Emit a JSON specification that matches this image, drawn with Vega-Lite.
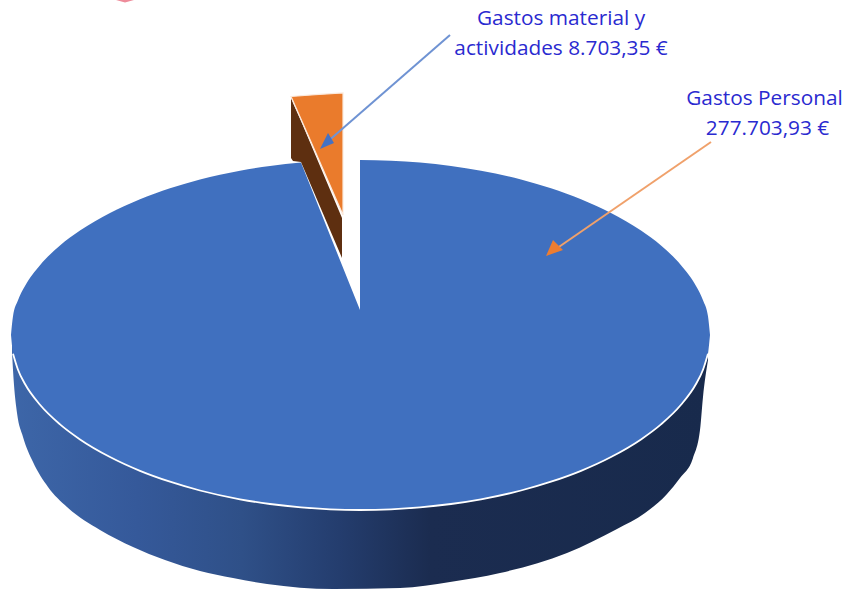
{"$schema":"https://vega.github.io/schema/vega-lite/v6.json","width":848,"height":592,"padding":0,"autosize":{"type":"none"},"background":"white","view":{"stroke":null},
"datasets":{
"wall":[{"x":12,"y":340,"y2":352},{"x":14,"y":340,"y2":385},{"x":17,"y":340,"y2":413},{"x":23,"y":340,"y2":437},{"x":33,"y":340,"y2":462},{"x":48,"y":340,"y2":487},{"x":67,"y":340,"y2":507},{"x":100,"y":340,"y2":530},{"x":133,"y":340,"y2":547},{"x":165,"y":340,"y2":560},{"x":200,"y":340,"y2":571},{"x":233,"y":340,"y2":578},{"x":267,"y":340,"y2":584},{"x":333,"y":340,"y2":589},{"x":400,"y":340,"y2":588},{"x":450,"y":340,"y2":582},{"x":500,"y":340,"y2":573},{"x":567,"y":340,"y2":553},{"x":617,"y":340,"y2":529},{"x":645,"y":340,"y2":513},{"x":667,"y":340,"y2":494},{"x":680,"y":340,"y2":478},{"x":693,"y":340,"y2":458},{"x":700,"y":340,"y2":430},{"x":703,"y":340,"y2":397},{"x":708,"y":340,"y2":360}],
"topLeft":[{"x":11,"y":335,"y2":335},{"x":13,"y":316.3,"y2":353.7},{"x":18,"y":300.2,"y2":369.8},{"x":25,"y":286,"y2":384},{"x":40,"y":265.2,"y2":404.8},{"x":60,"y":245.6,"y2":424.4},{"x":80,"y":230.6,"y2":439.4},{"x":110,"y":213,"y2":457},{"x":140,"y":199.2,"y2":470.8},{"x":170,"y":188.3,"y2":481.7},{"x":200,"y":179.5,"y2":490.5},{"x":240,"y":170.7,"y2":499.3},{"x":270,"y":166,"y2":504},{"x":301,"y":162.6,"y2":507.4}],
"topNotch":[{"x":301,"y":162.6,"y2":507.4},{"x":330,"y":235.3,"y2":509.3},{"x":360,"y":310,"y2":510}],
"topRight":[{"x":360,"y":160,"y2":510},{"x":391,"y":160.7,"y2":509.3},{"x":420,"y":162.6,"y2":507.4},{"x":451,"y":166,"y2":504},{"x":481,"y":170.7,"y2":499.3},{"x":521,"y":179.5,"y2":490.5},{"x":551,"y":188.3,"y2":481.7},{"x":581,"y":199.2,"y2":470.8},{"x":611,"y":213,"y2":457},{"x":641,"y":230.6,"y2":439.4},{"x":661,"y":245.6,"y2":424.4},{"x":681,"y":265.2,"y2":404.8},{"x":696,"y":286,"y2":384},{"x":703,"y":300.2,"y2":369.8},{"x":708,"y":316.3,"y2":353.7},{"x":710,"y":335,"y2":335}],
"rim":[{"x":13,"y":353.7},{"x":18,"y":369.8},{"x":25,"y":384},{"x":40,"y":404.8},{"x":60,"y":424.4},{"x":80,"y":439.4},{"x":110,"y":457},{"x":140,"y":470.8},{"x":170,"y":481.7},{"x":200,"y":490.5},{"x":240,"y":499.3},{"x":270,"y":504},{"x":301,"y":507.4},{"x":330,"y":509.3},{"x":360,"y":510},{"x":391,"y":509.3},{"x":420,"y":507.4},{"x":451,"y":504},{"x":481,"y":499.3},{"x":521,"y":490.5},{"x":551,"y":481.7},{"x":581,"y":470.8},{"x":611,"y":457},{"x":641,"y":439.4},{"x":661,"y":424.4},{"x":681,"y":404.8},{"x":696,"y":384},{"x":703,"y":369.8},{"x":708,"y":353.7}],
"brown":[{"x":291,"y":98,"y2":158},{"x":293,"y":103,"y2":161},{"x":301,"y":121,"y2":162},{"x":342,"y":218,"y2":258}],
"orange":[{"x":291,"y":96.5,"y2":96.5},{"x":315,"y":94.7,"y2":151},{"x":343,"y":93,"y2":215}],
"arrowBlue":[{"x":450,"y":35},{"x":326,"y":143}],
"arrowOrange":[{"x":711,"y":142},{"x":553,"y":251}],
"headBlue":[{"x":320,"y":149,"y2":149},{"x":328,"y":133,"y2":145.6},{"x":334,"y":143,"y2":143}],
"headOrange":[{"x":546,"y":256,"y2":256},{"x":553,"y":240,"y2":253.5},{"x":563,"y":250,"y2":250}],
"mark":[{"x":116,"y":0,"y2":0},{"x":125,"y":0,"y2":2.5},{"x":134,"y":0,"y2":0}],
"labels":[{"x":561,"y":25,"label":"Gastos material y"},{"x":561,"y":55,"label":"actividades 8.703,35 €"},{"x":764.5,"y":105,"label":"Gastos Personal"},{"x":767.5,"y":135,"label":"277.703,93 €"}]
},
"encoding":{"x":{"field":"x","type":"quantitative","axis":null,"scale":{"domain":[0,848],"nice":false,"zero":false}},"y":{"field":"y","type":"quantitative","axis":null,"scale":{"domain":[0,592],"reverse":true,"nice":false,"zero":false}}},
"layer":[
{"data":{"name":"wall"},"mark":{"type":"area","interpolate":"monotone","color":{"gradient":"linear","x1":0,"y1":0,"x2":1,"y2":0,"stops":[{"offset":0,"color":"#3d66a8"},{"offset":0.18,"color":"#35599a"},{"offset":0.33,"color":"#2f5088"},{"offset":0.47,"color":"#243d6e"},{"offset":0.6,"color":"#1b2c50"},{"offset":1,"color":"#182a4c"}]}},"encoding":{"y2":{"field":"y2"}}},
{"data":{"name":"topLeft"},"mark":{"type":"area","interpolate":"monotone","color":"#4070bf"},"encoding":{"y2":{"field":"y2"}}},
{"data":{"name":"topNotch"},"mark":{"type":"area","color":"#4070bf"},"encoding":{"y2":{"field":"y2"}}},
{"data":{"name":"topRight"},"mark":{"type":"area","interpolate":"monotone","color":"#4070bf"},"encoding":{"y2":{"field":"y2"}}},
{"data":{"name":"rim"},"mark":{"type":"line","interpolate":"monotone","color":"#ffffff","strokeWidth":1.8},"encoding":{}},
{"data":{"name":"brown"},"mark":{"type":"area","color":"#5e2f10"},"encoding":{"y2":{"field":"y2"}}},
{"data":{"name":"orange"},"mark":{"type":"area","color":"#ea7b2c","stroke":"#fbe9dc","strokeWidth":1.2},"encoding":{"y2":{"field":"y2"}}},
{"data":{"name":"arrowBlue"},"mark":{"type":"line","color":"#6f93d3","strokeWidth":2},"encoding":{}},
{"data":{"name":"arrowOrange"},"mark":{"type":"line","color":"#f0a16b","strokeWidth":2},"encoding":{}},
{"data":{"name":"headBlue"},"mark":{"type":"area","color":"#4472c4"},"encoding":{"y2":{"field":"y2"}}},
{"data":{"name":"headOrange"},"mark":{"type":"area","color":"#ed7d31"},"encoding":{"y2":{"field":"y2"}}},
{"data":{"name":"mark"},"mark":{"type":"area","color":"#ee8c9a"},"encoding":{"y2":{"field":"y2"}}},
{"data":{"name":"labels"},"mark":{"type":"text","font":"Open Sans","fontSize":20.8,"color":"#2a2ad0","align":"center","baseline":"alphabetic"},"encoding":{"text":{"field":"label"}}}
]}
